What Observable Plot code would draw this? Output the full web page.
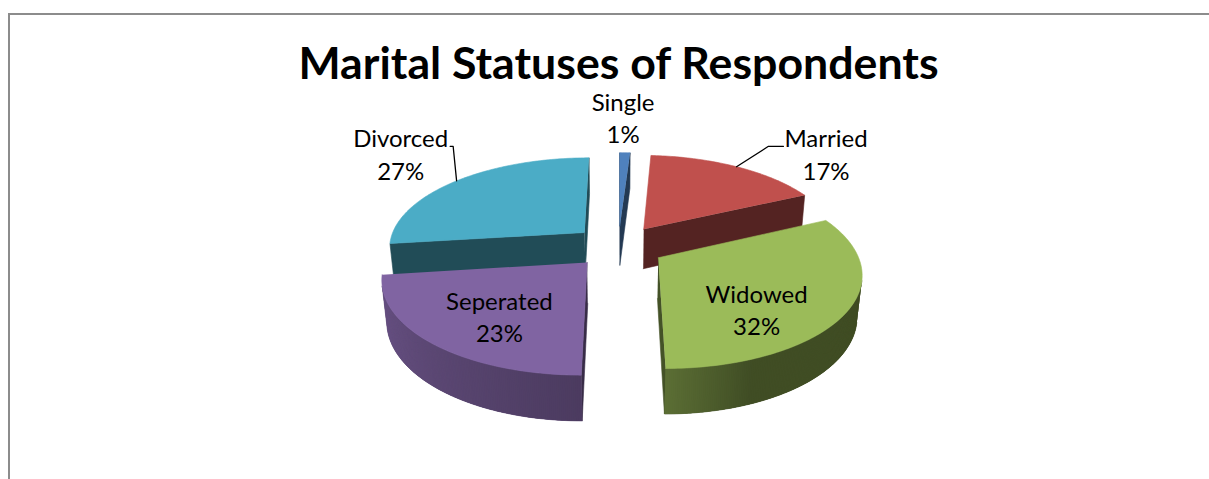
<!DOCTYPE html>
<html>
<head>
<meta charset="utf-8">
<script src="https://cdn.jsdelivr.net/npm/d3@7"></script>
<script src="https://cdn.jsdelivr.net/npm/@observablehq/plot@0.6"></script>
<style>
  html, body { margin: 0; padding: 0; background: #fff; overflow: hidden; }
  #wrap { position: relative; width: 1209px; height: 479px; overflow: hidden; }
  #chart { position: absolute; left: 0; top: 0; }
  #frame { position: absolute; left: 8px; top: 13px; width: 1400px; height: 700px;
           border-top: 2px solid #8c8c8c; border-left: 2px solid #8c8c8c; pointer-events: none; }
</style>
</head>
<body>
<div id="wrap"><div id="chart"></div><div id="frame"></div></div>
<script>
// ---------- data ----------
const chartTitle = "Marital Statuses of Respondents";
const categories = ["Single", "Married", "Widowed", "Seperated", "Divorced"];
const percents = [1, 17, 32, 23, 27];

// ---------- styling / layout (kept apart from the data) ----------
const sliceColors = ["#4f81bd", "#c0504d", "#9bbb59", "#8064a2", "#4bacc6"];
const labelRadius = [1.61, 1.53, 0.665, 0.643, 1.57];   // label distance (pie radii)
const labelTurn = [-1, 13, 16.5, -4.4, 2];              // label angle shift (deg)
const leaderStub = [null, 15, null, null, 3];           // leader lines (px stub), null = none
const FONT = "Lato, Carlito, 'Open Sans', sans-serif";

const W = 1209, H = 479;
// 3-D perspective camera
const SIN = 0.489, COS = Math.sqrt(1 - SIN * SIN);
const DIST = 5.84, FOC = 1125, THICK = 0.235, EXPLODE = 0.235, CX = 618, CY = 286;
const cam = [0, -DIST * COS, DIST * SIN];
function project(X, Y, Z) {
  const depth = DIST + Y * COS - Z * SIN;
  return [CX + FOC * X / depth, CY - FOC * (Y * SIN + Z * COS) / depth];
}
const rad = d => d * Math.PI / 180;

// text measuring to size fonts like the reference
const ctx = document.createElement("canvas").getContext("2d");
function textW(str, size, weight) { ctx.font = `${weight} ${size}px ${FONT}`; return ctx.measureText(str).width; }
const LABEL_FS = 100 * 95 / textW("Divorced", 100, "normal");
const TITLE_FS = 100 * 641 / textW(chartTitle, 100, "bold");

// ---------- slices ----------
const total = d3.sum(percents);
let acc = 0;
const slices = categories.map((c, i) => {
  const a0 = acc / total * 360; acc += percents[i]; const a1 = acc / total * 360;
  const am = (a0 + a1) / 2;
  return { i, c, p: percents[i], a0, a1, am,
           ox: EXPLODE * Math.sin(rad(am)), oy: EXPLODE * Math.cos(rad(am)) };
});

function shade(col, b) {
  const c = d3.rgb(col);
  return d3.rgb(c.r * b, c.g * b, c.b * b).formatHex();
}
function wallLight(deg) {
  const t = ((deg % 360) + 360) % 360;
  if (t <= 158) return 0.41;
  if (t <= 180) return 0.41 + (t - 158) / 22 * 0.18;
  if (t <= 265) return 0.59 + (t - 180) / 85 * 0.25;
  return 0.84;
}
function visible(P, n) {
  return (cam[0] - P[0]) * n[0] + (cam[1] - P[1]) * n[1] + (cam[2] - P[2]) * n[2] > 0;
}

const polys = [];
let pid = 0;
function addPoly(pts, col, edge) {
  const id = pid++;
  for (const [px, py] of pts) polys.push({ id, px, py, col, edge: edge ? col : "none" });
}

const order = slices.slice().sort((a, b) => b.oy - a.oy);
for (const s of order) {
  const base = sliceColors[s.i];
  const pt = (deg, r, Z) => project(s.ox + r * Math.sin(rad(deg)), s.oy + r * Math.cos(rad(deg)), Z);
  // radial walls
  for (const [deg, sign] of [[s.a0, -1], [s.a1, 1]]) {
    const n = [sign * Math.cos(rad(deg)), -sign * Math.sin(rad(deg)), 0];
    const P = [s.ox + 0.5 * Math.sin(rad(deg)), s.oy + 0.5 * Math.cos(rad(deg)), THICK / 2];
    if (visible(P, n)) {
      addPoly([pt(deg, 0, THICK), pt(deg, 1, THICK), pt(deg, 1, 0), pt(deg, 0, 0)], shade(base, 0.44), true);
    }
  }
  // outer wall: visible strips
  const step = 0.5;
  const steps = Math.max(2, Math.ceil((s.a1 - s.a0) / step));
  const vis = [];
  for (let j = 0; j < steps; j++) {
    const ta = s.a0 + (s.a1 - s.a0) * j / steps, tb = s.a0 + (s.a1 - s.a0) * (j + 1) / steps;
    const tm = (ta + tb) / 2;
    const n = [Math.sin(rad(tm)), Math.cos(rad(tm)), 0];
    const P = [s.ox + n[0], s.oy + n[1], THICK / 2];
    if (visible(P, n)) vis.push([ta, tb, tm]);
  }
  if (vis.length) {
    const lo = vis[0][0], hi = vis[vis.length - 1][1];
    // underlay for the whole visible wall
    const under = [];
    const m = Math.max(4, Math.ceil(hi - lo));
    for (let j = 0; j <= m; j++) under.push(pt(lo + (hi - lo) * j / m, 1, THICK));
    for (let j = m; j >= 0; j--) under.push(pt(lo + (hi - lo) * j / m, 1, 0));
    addPoly(under, shade(base, wallLight((lo + hi) / 2)), true);
    // overlapping shaded strips give a smooth gradient
    for (const [ta, tb, tm] of vis) {
      const te = Math.min(hi, tb + step);
      addPoly([pt(ta, 1, THICK), pt(tb, 1, THICK), pt(te, 1, THICK), pt(te, 1, 0), pt(tb, 1, 0), pt(ta, 1, 0)],
              shade(base, wallLight(tm)), false);
    }
  }
  // top face
  const top = [pt(s.a0, 0, THICK)];
  const k = Math.max(4, Math.ceil(s.a1 - s.a0));
  for (let j = 0; j <= k; j++) top.push(pt(s.a0 + (s.a1 - s.a0) * j / k, 1, THICK));
  addPoly(top, base, true);
}

// ---------- labels and leaders ----------
const labels = slices.map(s => {
  const th = rad(s.am + labelTurn[s.i]), R = labelRadius[s.i];
  const [x, y] = project(s.ox + R * Math.sin(th), s.oy + R * Math.cos(th), THICK);
  return { x, y, text: `${s.c}\n${s.p}%`, s };
});
const leaders = [];
labels.forEach((l, li) => {
  const stub = leaderStub[l.s.i];
  if (stub == null) return;
  const s = l.s;
  const A = project(s.ox + Math.sin(rad(s.am)), s.oy + Math.cos(rad(s.am)), THICK);
  const w = textW(s.c, LABEL_FS, "normal");
  const right = l.x > A[0];
  const ax = right ? l.x - w / 2 - 1 : l.x + w / 2 + 2;
  const ay = l.y - LABEL_FS * 0.27;
  const ex = right ? ax - stub : ax + stub;
  leaders.push({ id: li, x: ax, y: ay }, { id: li, x: ex, y: ay }, { id: li, x: A[0], y: A[1] });
});

const chart = Plot.plot({
  width: W, height: H, margin: 0,
  x: { domain: [0, W], range: [0, W] },
  y: { domain: [0, H], range: [0, H] },
  color: { type: "identity" },
  axis: null,
  style: { background: "transparent", overflow: "visible" },
  marks: [
    Plot.line(polys, { x: "px", y: "py", z: "id", fill: "col", stroke: "edge", strokeWidth: 0.6, strokeLinejoin: "round" }),
    Plot.line(leaders, { x: "x", y: "y", z: "id", stroke: "#000", strokeWidth: 1.3 }),
    Plot.text(labels, { x: "x", y: "y", text: "text", fontSize: LABEL_FS, fontFamily: FONT, lineHeight: 1.36,
                        textAnchor: "middle", lineAnchor: "middle", fill: "#000" }),
    Plot.text([chartTitle], { x: CX, y: 64, text: d => d, fontSize: TITLE_FS, fontWeight: "bold", fontFamily: FONT,
                              textAnchor: "middle", lineAnchor: "middle", fill: "#000" })
  ]
});
document.getElementById("chart").appendChild(chart);
</script>
</body>
</html>
